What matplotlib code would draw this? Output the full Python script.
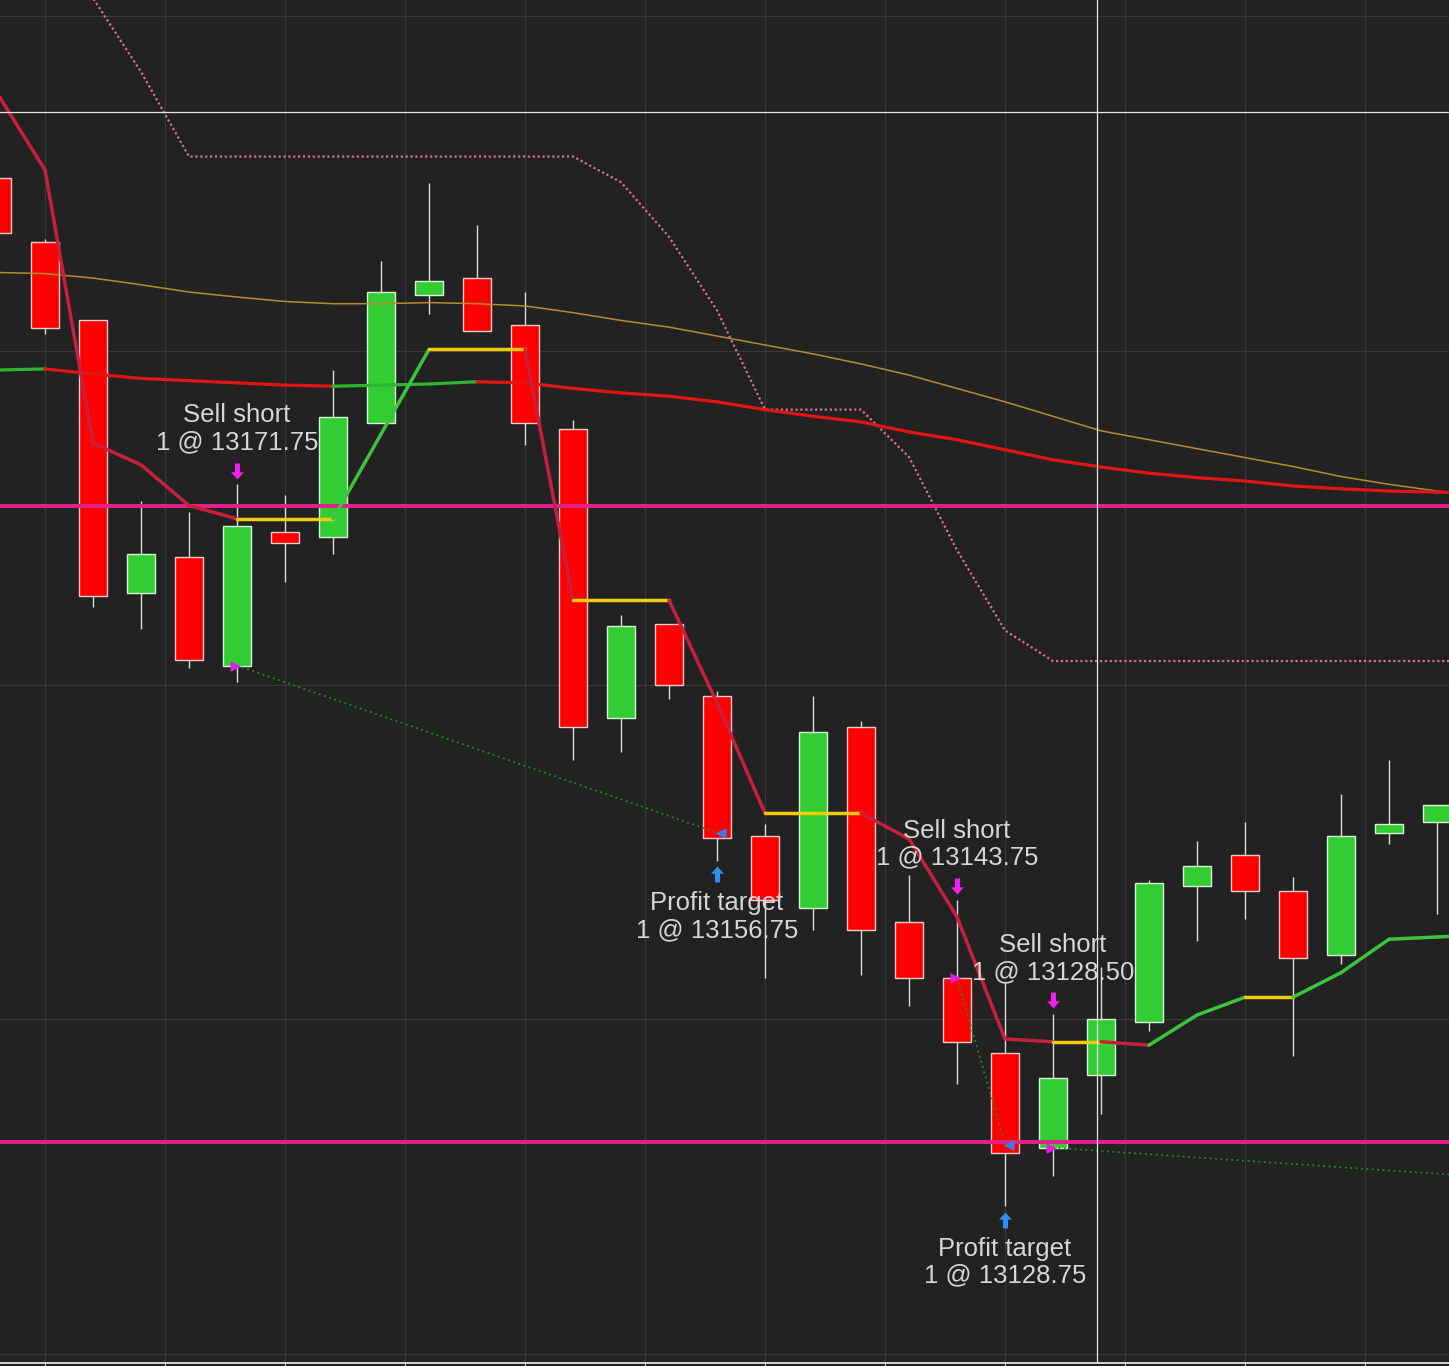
import matplotlib
matplotlib.use('Agg')
import matplotlib.pyplot as plt
import matplotlib.transforms as mtransforms
from matplotlib.collections import LineCollection
from matplotlib.patches import Rectangle
from matplotlib.path import Path
import numpy as np

plt.rcParams['font.family'] = ['Liberation Sans', 'DejaVu Sans']

# --- bar data (one index step per bar) ---
opens = [13215.50, 13209.75, 13202.75, 13178.25, 13181.50, 13171.75, 13183.75, 13183.25,
         13193.50, 13205.00, 13206.50, 13202.25, 13193.00, 13167.00, 13175.50, 13169.00,
         13156.50, 13150.00, 13166.25, 13148.75, 13143.75, 13137.00, 13128.50, 13135.00,
         13139.75, 13152.00, 13154.75, 13151.50, 13145.75, 13156.75, 13157.75]
highs = [13216.00, 13210.00, 13202.75, 13186.50, 13185.50, 13188.00, 13187.00, 13198.25,
         13208.00, 13215.00, 13211.25, 13205.25, 13193.75, 13176.25, 13175.50, 13169.50,
         13157.50, 13169.00, 13166.75, 13153.00, 13150.75, 13143.25, 13140.50, 13144.75,
         13152.50, 13156.00, 13157.75, 13152.75, 13160.25, 13163.25, 13159.25]
lows = [13209.75, 13201.50, 13177.00, 13175.00, 13171.50, 13170.25, 13179.25, 13181.75,
        13193.50, 13203.25, 13201.75, 13191.50, 13163.25, 13164.00, 13168.75, 13154.25,
        13143.75, 13148.00, 13144.00, 13141.25, 13134.25, 13123.25, 13126.00, 13131.50,
        13139.00, 13147.00, 13149.00, 13136.75, 13145.00, 13155.75, 13149.50]
closes = [13210.50, 13202.00, 13178.00, 13181.75, 13172.25, 13184.25, 13182.75, 13194.00,
          13205.25, 13206.25, 13201.75, 13193.50, 13166.25, 13175.25, 13170.00, 13156.25,
          13150.75, 13165.75, 13148.00, 13143.75, 13138.00, 13128.00, 13134.75, 13140.00,
          13152.25, 13153.75, 13151.50, 13145.50, 13156.50, 13157.50, 13159.25]

# indicator values (one more bar than shown candles, runs past the right edge)
# stepped trailing line (green up / yellow flat / crimson down)
trail = [13223.1, 13216.2, 13191.7, 13189.75, 13186.1, 13184.9, 13184.9, 13184.9,
         13192.5, 13200.1, 13200.1, 13200.1, 13177.6, 13177.6, 13177.6, 13168.4,
         13158.5, 13158.5, 13158.5, 13156.2, 13149.2, 13138.25, 13138.0, 13138.0,
         13137.7, 13140.4, 13142.0, 13142.0, 13144.2, 13147.2, 13147.4, 13147.6]

# moving average (green rising / red falling)
ma_fast = [13198.25, 13198.35, 13197.9, 13197.5, 13197.3, 13197.1, 13196.9, 13196.8,
           13196.9, 13197.0, 13197.2, 13197.1, 13196.6, 13196.2, 13195.9, 13195.4,
           13194.7, 13194.1, 13193.6, 13192.7, 13192.0, 13191.1, 13190.2, 13189.55,
           13189.0, 13188.6, 13188.3, 13187.85, 13187.6, 13187.4, 13187.3, 13187.2]

# slow average (thin orange)
ma_slow = [13207.0, 13206.9, 13206.5, 13205.9, 13205.25, 13204.8, 13204.4, 13204.2,
           13204.2, 13204.3, 13204.2, 13204.0, 13203.4, 13202.7, 13202.1, 13201.3,
           13200.5, 13199.7, 13198.8, 13197.8, 13196.6, 13195.4, 13194.1, 13192.8,
           13192.0, 13191.2, 13190.4, 13189.6, 13188.7, 13188.0, 13187.4, 13186.9]

# stop band (pink dotted)
stop_band = [13245.0, 13238.3, 13231.6, 13225.0, 13217.4, 13217.4, 13217.4, 13217.4,
             13217.4, 13217.4, 13217.4, 13217.4, 13217.4, 13215.1, 13210.2, 13203.6,
             13194.7, 13194.7, 13194.7, 13190.45, 13182.1, 13174.9, 13172.15, 13172.15,
             13172.15, 13172.15, 13172.15, 13172.15, 13172.15, 13172.15, 13172.15, 13172.15]

levels = [13186.1, 13129.0]
crosshair = (22.92, 13221.4)

# trades
entry_bars = [5, 20, 22]
entry_prices = [13171.75, 13143.75, 13128.50]
exit_bars = [15, 21, 40]
exit_prices = [13156.75, 13128.75, 13123.25]

BG = '#222222'
TXT = '#d6d6d6'
bars = np.arange(len(opens))
ibars = np.arange(len(trail))

fig = plt.figure(figsize=(14.49, 13.66), dpi=100, facecolor=BG)
ax = fig.add_axes([0, 3 / 1366, 1, 1363 / 1366], facecolor=BG)
ax.set_xlim(0.0625, 30.25)
ax.set_ylim(13109.19, 13231.44)

ax.set_xticks(np.arange(1, 30, 2.5))
ax.set_yticks([13110, 13140, 13170, 13200, 13230])
ax.grid(color='#383838', lw=0.9, zorder=0)
ax.set_axisbelow(True)
ax.tick_params(axis='x', direction='out', length=2.5, color='#d0d0d0', labelbottom=False)
ax.tick_params(axis='y', length=0, labelleft=False)
for s in ['top', 'left', 'right']:
    ax.spines[s].set_visible(False)
ax.spines['bottom'].set_color('#d4d4d4')
ax.spines['bottom'].set_linewidth(1.4)

# candles
ax.vlines(bars, lows, highs, color='#dcdcdc', lw=1, zorder=1)
w = 0.58
for i in bars:
    o, c = opens[i], closes[i]
    up = c >= o
    ax.add_patch(Rectangle((i - w / 2, min(o, c)), w, max(abs(c - o), 0.05),
                           facecolor='#32cd32' if up else '#ff0000',
                           edgecolor='#d8f2d8' if up else '#f6caca', lw=1, zorder=2))


def colored_line(y, up, flat, down, lw, z):
    y = np.asarray(y, dtype=float)
    pts = np.column_stack([ibars, y])
    segs = np.stack([pts[:-1], pts[1:]], axis=1)
    d = np.diff(y)
    cols = [up if v > 0 else (down if v < 0 else flat) for v in d]
    ax.add_collection(LineCollection(segs, colors=cols, linewidths=lw, zorder=z,
                                     capstyle='round', joinstyle='round'))


ax.plot(ibars, ma_slow, color='#b88a30', lw=1.1, zorder=3)
colored_line(ma_fast, '#2fb52f', '#e31414', '#e31414', 2.3, 4)
ax.plot(ibars, stop_band, color='#d9709a', lw=1.6, ls=(0, (1, 1.2)), zorder=3)
for lv in levels:
    ax.axhline(lv, color='#e0218a', lw=2.9, zorder=5)
colored_line(trail, '#3dc43d', '#f2cc0c', '#c7203f', 2.5, 6)

# crosshair
ax.axvline(crosshair[0], color='#e6e6e6', lw=0.9, zorder=7)
ax.axhline(crosshair[1], color='#e6e6e6', lw=0.9, zorder=7)

# trade connectors and fill markers
for eb, ep, xb, xp in zip(entry_bars, entry_prices, exit_bars, exit_prices):
    ax.plot([eb, xb], [ep, xp], color='#1f8f1f', lw=1.3, ls=(0, (1, 2)), zorder=6)
ax.scatter(np.array(entry_bars) - 0.05, entry_prices, marker='>', s=40, color='#e020e0', zorder=8)
ax.scatter(np.array(exit_bars) + 0.08, exit_prices, marker='<', s=40, color='#3a7fe0', zorder=8)

# block arrow markers
verts = [(0, -1), (0.8, -0.1), (0.32, -0.1), (0.32, 1), (-0.32, 1),
         (-0.32, -0.1), (-0.8, -0.1), (0, -1)]
arrow_down = Path(verts, closed=True)
arrow_up = Path([(x, -y) for x, y in verts], closed=True)

px = 0.72
for eb, ep in zip(entry_bars, entry_prices):
    hi = highs[eb]
    tr = mtransforms.offset_copy(ax.transData, fig=fig, y=13.5 * px, units='points')
    ax.plot(eb, hi, marker=arrow_down, ms=11.5, color='#f020f0', mew=0, transform=tr, zorder=9)
    ax.annotate('Sell short\n1 @ %.2f' % ep, xy=(eb, hi), xytext=(0, 55.5 * px),
                textcoords='offset points', ha='center', va='center', fontsize=18.5,
                color=TXT, linespacing=1.15, zorder=10)

for xb, xp in zip(exit_bars, exit_prices):
    if xb >= len(opens):
        continue
    lo = lows[xb]
    tr = mtransforms.offset_copy(ax.transData, fig=fig, y=-13.5 * px, units='points')
    ax.plot(xb, lo, marker=arrow_up, ms=11.5, color='#2f8ff0', mew=0, transform=tr, zorder=9)
    ax.annotate('Profit target\n1 @ %.2f' % xp, xy=(xb, lo), xytext=(0, -56 * px),
                textcoords='offset points', ha='center', va='center', fontsize=18.5,
                color=TXT, linespacing=1.15, zorder=10)

fig.savefig('out.png', dpi=100, facecolor=BG)
